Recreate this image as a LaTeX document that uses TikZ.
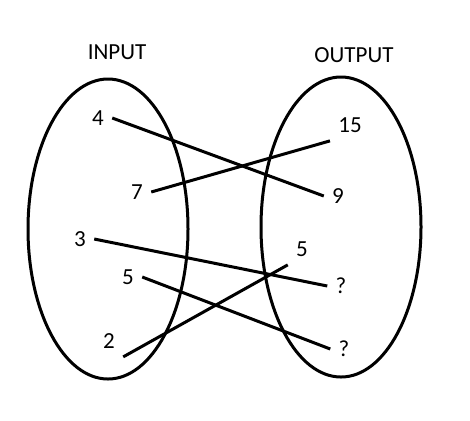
\documentclass[tikz,border=0pt]{standalone}
\usepackage{fontspec}
\setmainfont{Carlito}

\begin{document}
\begin{tikzpicture}
  [x=.5pt,y=-.5pt,every node/.style={inner sep=4pt,font=\fontsize{11.5}{14}\selectfont}]
  \useasboundingbox (0,0) rectangle (470,420);

  \draw[line width=1.5pt] (108,229) ellipse [x radius=80,y radius=150];
  \draw[line width=1.5pt] (341,227) ellipse [x radius=80,y radius=150];

  \node (input) at (117,52) {INPUT};
  \node (output) at (354,55) {OUTPUT};

  \node (i4) at (98,118) {4};
  \node (i7) at (137,192) {7};
  \node (i3) at (80,239) {3};
  \node (i5) at (128,277) {5};
  \node (i2) at (109,341) {2};

  \node (o15) at (350,125) {15};
  \node (o9) at (338,196) {9};
  \node (o5) at (302,249) {5};
  \node (oq1) at (341,286) {?};
  \node (oq2) at (344,349) {?};

  \draw[line width=1.5pt] (i4.east) -- (o9.west);
  \draw[line width=1.5pt] (i7.east) -- (o15.south west);
  \draw[line width=1.5pt] (i3.east) -- (oq1.west);
  \draw[line width=1.5pt] (i5.east) -- (oq2.west);
  \draw[line width=1.5pt] (i2.south east) -- (o5.south west);
\end{tikzpicture}
\end{document}
